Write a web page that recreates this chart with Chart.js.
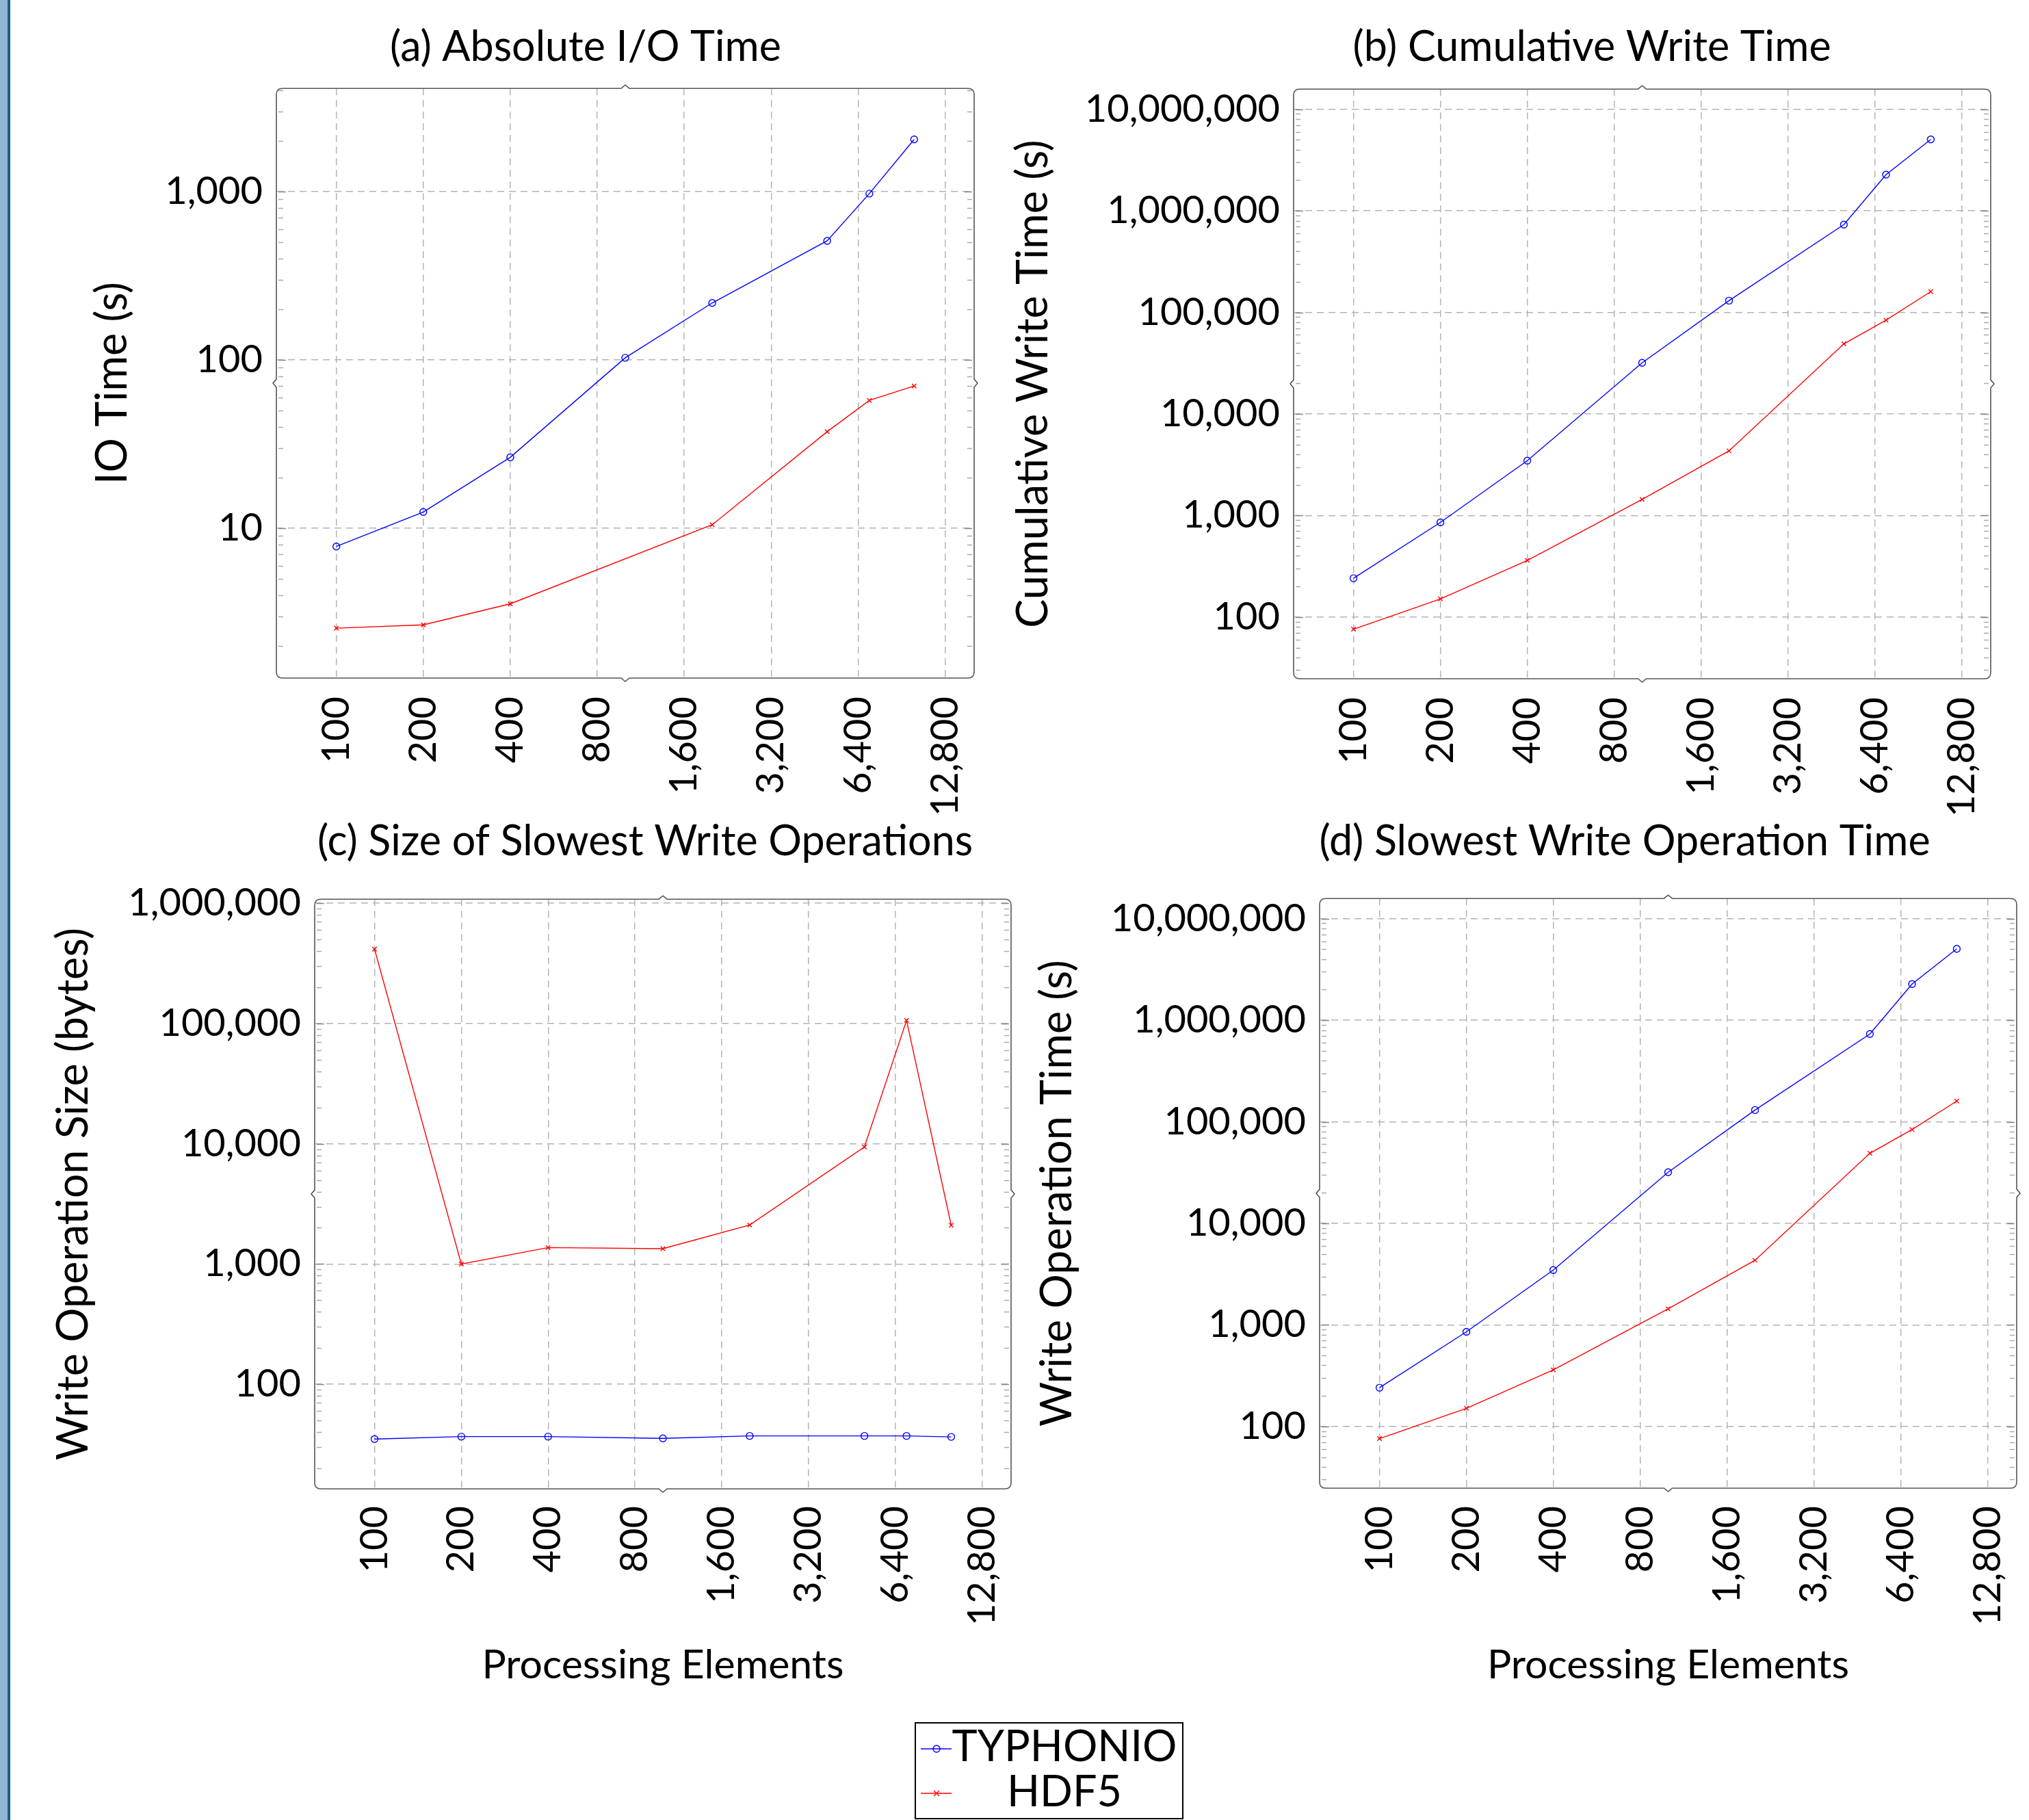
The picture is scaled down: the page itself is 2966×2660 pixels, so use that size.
<!DOCTYPE html>
<html>
<head>
<meta charset="utf-8">
<script src="https://cdn.jsdelivr.net/npm/chart.js@4/dist/chart.umd.min.js"></script>
<style>
html,body{margin:0;padding:0;background:#fff;width:2966px;height:2660px;overflow:hidden;position:relative;}
canvas{position:absolute;}
#barL{position:absolute;left:0;top:0;width:11px;height:2660px;background:#8fb5d3;}
#barD{position:absolute;left:11px;top:0;width:4px;height:2660px;background:#1f5b86;}
#legend{position:absolute;left:1337px;top:2517px;}
</style>
</head>
<body>
<div id="barL"></div><div id="barD"></div>
<svg id="legend" width="393" height="142" viewBox="0 0 393 142">
  <rect x="1" y="1" width="391" height="140" fill="#fff" stroke="#000" stroke-width="2"/>
  <line x1="9" y1="39" x2="54" y2="39" stroke="#0000ff" stroke-width="1.4"/>
  <circle cx="32" cy="39" r="5" fill="none" stroke="#0000ff" stroke-width="1.4"/>
  <text x="219" y="57" text-anchor="middle" font-family="Lato" font-size="63" fill="#000">TYPHONIO</text>
  <line x1="9" y1="104" x2="54" y2="104" stroke="#ff0000" stroke-width="1.4"/>
  <path d="M28 100 L36 108 M36 100 L28 108" stroke="#ff0000" stroke-width="1.4"/>
  <text x="219" y="123" text-anchor="middle" font-family="Lato" font-size="63" fill="#000">HDF5</text>
</svg>
<script>
// ---------------- DATA ----------------
const peTicks = [100, 200, 400, 800, 1600, 3200, 6400, 12800];
const processingElements = [100, 200, 400, 1000, 2000, 5000, 7000, 10000];

const ioTimeTyphonio = [7.8, 12.5, 26.4, 103, 218, 510, 973, 2040];
const ioTimeHdf5 = [2.55, 2.67, 3.56, null, 10.5, 37.5, 57.5, 70];

const cumWriteTyphonio = [241, 855, 3470, 31900, 130500, 732000, 2270000, 5050000];
const cumWriteHdf5 = [76, 151, 361, 1440, 4330, 49000, 83800, 160000];

const slowSizeTyphonio = [35, 36.7, 36.7, 35.5, 37.2, 37.2, 37.2, 36.5];
const slowSizeHdf5 = [415000, 1000, 1370, 1340, 2110, 9400, 106000, 2100];

const slowTimeTyphonio = [241, 855, 3470, 31900, 130500, 732000, 2270000, 5050000];
const slowTimeHdf5 = [76, 151, 361, 1440, 4330, 49000, 83800, 160000];

const yTicksIO = [10, 100, 1000];
const yTicksTime = [100, 1000, 10000, 100000, 1000000, 10000000];
const yTicksSize = [100, 1000, 10000, 100000, 1000000];

const seriesNames = ['TYPHONIO', 'HDF5'];

// ---------------- STYLE / LAYOUT ----------------
const FONT = 'Lato, "DejaVu Sans", sans-serif';
const fmt = v => Number(v).toLocaleString('en-US');

const framePlugin = {
  id: 'frame',
  beforeDatasetsDraw(chart) {
    const {ctx, chartArea: {left, right}} = chart;
    const y = chart.scales.y;
    ctx.save();
    ctx.lineWidth = 1.5;
    const e0 = Math.floor(Math.log10(y.min)), e1 = Math.ceil(Math.log10(y.max));
    for (let e = e0; e <= e1; e++) {
      for (let m = 1; m <= 9; m++) {
        const v = m * Math.pow(10, e);
        if (v < y.min || v > y.max) continue;
        const py = Math.round(y.getPixelForValue(v)) + 0.5;
        const len = m === 1 ? 11 : 7;
        ctx.strokeStyle = m === 1 ? '#888' : '#aaa';
        ctx.beginPath();
        ctx.moveTo(left + 3, py); ctx.lineTo(left + 3 + len, py);
        ctx.moveTo(right - 3 - len, py); ctx.lineTo(right - 3, py);
        ctx.stroke();
      }
    }
    ctx.restore();
  },
  afterDraw(chart) {
    const {ctx, chartArea: {left: l, top: t, right: r, bottom: b}} = chart;
    const rad = 9, n = 6, h = 5;
    const mx = (l + r) / 2, my = (t + b) / 2;
    ctx.save();
    ctx.strokeStyle = '#555';
    ctx.lineWidth = 1.6;
    ctx.beginPath();
    ctx.moveTo(l + rad, t);
    ctx.lineTo(mx - n, t); ctx.lineTo(mx, t - h); ctx.lineTo(mx + n, t);
    ctx.lineTo(r - rad, t); ctx.quadraticCurveTo(r, t, r, t + rad);
    ctx.lineTo(r, my - n); ctx.lineTo(r + h, my); ctx.lineTo(r, my + n);
    ctx.lineTo(r, b - rad); ctx.quadraticCurveTo(r, b, r - rad, b);
    ctx.lineTo(mx + n, b); ctx.lineTo(mx, b + h); ctx.lineTo(mx - n, b);
    ctx.lineTo(l + rad, b); ctx.quadraticCurveTo(l, b, l, b - rad);
    ctx.lineTo(l, my + n); ctx.lineTo(l - h, my); ctx.lineTo(l, my - n);
    ctx.lineTo(l, t + rad); ctx.quadraticCurveTo(l, t, l + rad, t);
    ctx.closePath();
    ctx.stroke();
    ctx.restore();
  }
};

function makePanel(p) {
  const cv = document.createElement('canvas');
  cv.width = p.w; cv.height = p.h;
  cv.style.left = p.x + 'px'; cv.style.top = p.y + 'px';
  cv.style.width = p.w + 'px'; cv.style.height = p.h + 'px';
  document.body.appendChild(cv);
  const ds = (label, vals, color, style, r) => ({
    label,
    data: processingElements.map((x, i) => ({x, y: vals[i]})),
    borderColor: color, backgroundColor: color, borderWidth: 1.4,
    pointStyle: style, pointRadius: r, pointBorderWidth: 1.4,
    pointBorderColor: color, pointBackgroundColor: 'rgba(0,0,0,0)',
    spanGaps: true, tension: 0, fill: false
  });
  const gridOpts = {color: '#b4b4b4', lineWidth: 1.5, drawTicks: false};
  new Chart(cv, {
    type: 'line',
    data: {datasets: [
      ds(seriesNames[0], p.blue, '#0000ff', 'circle', 5),
      ds(seriesNames[1], p.red, '#ff0000', 'crossRot', 4.5)
    ]},
    options: {
      responsive: false, animation: false, devicePixelRatio: 1,
      layout: {padding: 0},
      plugins: {
        legend: {display: false}, tooltip: {enabled: false},
        title: {display: true, text: p.title, color: '#000',
          font: {family: FONT, size: 61, weight: 'normal'},
          padding: {top: p.tPadT, bottom: p.tPadB}}
      },
      scales: {
        x: {
          type: 'logarithmic', min: 62, max: 16130, bounds: 'data',
          afterBuildTicks: s => { s.ticks = peTicks.map(v => ({value: v})); },
          afterFit: s => { s.height = p.xH; },
          ticks: {autoSkip: false, minRotation: 90, maxRotation: 90, padding: p.xTickPad,
            color: '#000', font: {family: FONT, size: 56}, callback: v => fmt(v)},
          grid: gridOpts,
          border: {display: false, dash: [10, 7]},
          title: p.xTitle ? {display: true, text: p.xTitle, color: '#000',
            font: {family: FONT, size: 59}, padding: {top: 0, bottom: p.xTitlePad}} : {display: false}
        },
        y: {
          type: 'logarithmic', position: 'left', min: p.yMin, max: p.yMax, bounds: 'data',
          afterBuildTicks: s => { s.ticks = p.yTicks.map(v => ({value: v})); },
          afterFit: s => { s.width = p.yW; },
          ticks: {padding: 20, color: '#000', font: {family: FONT, size: 56}, callback: v => fmt(v)},
          grid: gridOpts,
          border: {display: false, dash: [10, 7]},
          title: {display: true, text: p.yTitle, color: '#000',
            font: {family: FONT, size: 63}, padding: {top: p.yTitlePad, bottom: 0}}
        },
        spacer: {
          type: 'linear', axis: 'y', position: 'right', display: true,
          afterFit: s => { s.width = p.rightW; },
          ticks: {display: false}, grid: {display: false}, border: {display: false}
        }
      }
    },
    plugins: [framePlugin]
  });
}

makePanel({
  x: 0, y: 0, w: 1712, h: 1200, yW: 404, rightW: 288, xH: 209,
  tPadT: 33, tPadB: 23, xTickPad: 27, yTitlePad: 127,
  title: '(a) Absolute I/O Time', yTitle: 'IO Time (s)',
  yMin: 1.29, yMax: 4100, yTicks: yTicksIO,
  blue: ioTimeTyphonio, red: ioTimeHdf5
});
makePanel({
  x: 1440, y: 0, w: 1774, h: 1200, yW: 451, rightW: 304, xH: 208,
  tPadT: 33, tPadB: 24, xTickPad: 27, yTitlePad: 33,
  title: '(b) Cumulative Write Time', yTitle: 'Cumulative Write Time (s)',
  yMin: 24.7, yMax: 1.58e7, yTicks: yTicksTime,
  blue: cumWriteTyphonio, red: cumWriteHdf5
});
makePanel({
  x: 0, y: 1160, w: 1886, h: 1340, yW: 460, rightW: 408, xH: 324,
  tPadT: 34, tPadB: 47, xTickPad: 25, yTitlePad: 70, xTitlePad: 31,
  title: '(c) Size of Slowest Write Operations', yTitle: 'Write Operation Size (bytes)',
  xTitle: 'Processing Elements',
  yMin: 13.5, yMax: 1.08e6, yTicks: yTicksSize,
  blue: slowSizeTyphonio, red: slowSizeHdf5
});
makePanel({
  x: 1483, y: 1160, w: 1784, h: 1340, yW: 446, rightW: 319, xH: 325,
  tPadT: 34, tPadB: 46, xTickPad: 26, yTitlePad: 25, xTitlePad: 31,
  title: '(d) Slowest Write Operation Time', yTitle: 'Write Operation Time (s)',
  xTitle: 'Processing Elements',
  yMin: 24.7, yMax: 1.58e7, yTicks: yTicksTime,
  blue: slowTimeTyphonio, red: slowTimeHdf5
});
</script>
</body>
</html>
